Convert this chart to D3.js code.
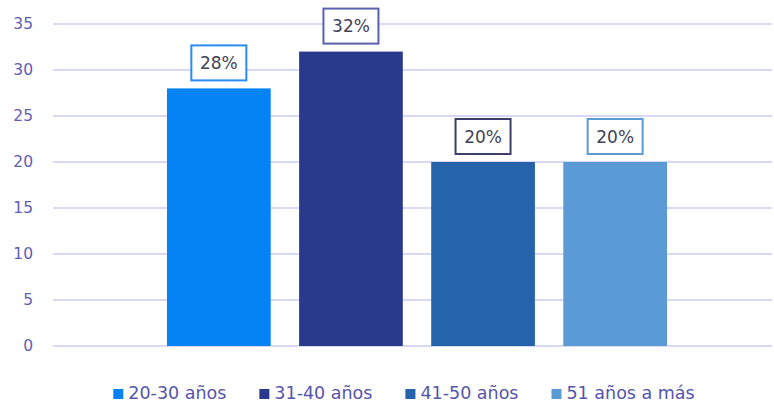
<!DOCTYPE html>
<html>
<head>
<meta charset="utf-8">
<script src="https://cdn.jsdelivr.net/npm/d3@7"></script>
<style>
  html, body { margin: 0; padding: 0; background: #ffffff; }
  svg { display: block; }
</style>
</head>
<body>
<svg id="chart" width="774" height="404"></svg>
<script>
// Age groups and their share of respondents (%)
const categories = ["20-30 años", "31-40 años", "41-50 años", "51 años a más"];
const values = [28, 32, 20, 20];
const barColors = ["#0583f4", "#293a8c", "#2563ab", "#5b9bd5"];
const labelBorders = ["#2a8cf0", "#5862ad", "#3e3e66", "#5b9bd5"];
const yTicks = [0, 5, 10, 15, 20, 25, 30, 35];

const FONT = "'DejaVu Sans', sans-serif";
const svg = d3.select("#chart");

const plot = { left: 53, right: 772, top: 24, bottom: 346 };

const y = d3.scaleLinear().domain([0, 35]).range([plot.bottom, plot.top]);
const x = d3.scaleBand()
  .domain(categories)
  .range([153, 681])
  .paddingInner(0.215)
  .paddingOuter(0.106);

// Horizontal gridlines
svg.append("g")
  .selectAll("line")
  .data(yTicks)
  .join("line")
  .attr("x1", plot.left)
  .attr("x2", plot.right)
  .attr("y1", d => y(d))
  .attr("y2", d => y(d))
  .attr("stroke", "#d9d9f4")
  .attr("stroke-width", 2);

// Y axis labels
const yAxis = d3.axisLeft(y).tickValues(yTicks).tickSize(0).tickPadding(0);
const yAxisG = svg.append("g")
  .attr("transform", "translate(33,0)")
  .call(yAxis);
yAxisG.select(".domain").remove();
yAxisG.selectAll("text")
  .attr("fill", "#5e5eb4")
  .attr("font-family", FONT)
  .attr("font-size", 15.5);

// Bars
svg.append("g")
  .selectAll("rect")
  .data(values)
  .join("rect")
  .attr("x", (d, i) => x(categories[i]))
  .attr("width", x.bandwidth())
  .attr("y", d => y(d))
  .attr("height", d => y(0) - y(d))
  .attr("fill", (d, i) => barColors[i]);

// Value callouts above each bar
const boxW = 55, boxH = 35, boxGap = 8;
const labels = svg.append("g")
  .selectAll("g")
  .data(values)
  .join("g")
  .attr("transform", (d, i) =>
    `translate(${x(categories[i]) + x.bandwidth() / 2},${y(d) - boxGap - boxH})`);

labels.append("rect")
  .attr("x", -boxW / 2)
  .attr("y", 0)
  .attr("width", boxW)
  .attr("height", boxH)
  .attr("fill", "#ffffff")
  .attr("stroke", (d, i) => labelBorders[i])
  .attr("stroke-width", 2);

labels.append("text")
  .attr("x", 0)
  .attr("y", boxH / 2 + 1)
  .attr("text-anchor", "middle")
  .attr("dominant-baseline", "middle")
  .attr("font-family", FONT)
  .attr("font-size", 17)
  .attr("fill", "#424256")
  .text(d => d + "%");

// Legend
const legendY = 394;
const legend = svg.append("g");
const items = legend.selectAll("g")
  .data(categories)
  .join("g");

items.append("rect")
  .attr("x", 0)
  .attr("y", legendY - 5)
  .attr("width", 10)
  .attr("height", 10)
  .attr("fill", (d, i) => barColors[i]);

items.append("text")
  .attr("x", 15)
  .attr("y", legendY)
  .attr("dominant-baseline", "middle")
  .attr("font-family", FONT)
  .attr("font-size", 17.5)
  .attr("fill", "#5555aa")
  .text(d => d);

// Lay legend entries out in one centred row
const gap = 33;
const widths = [];
items.each(function () {
  widths.push(15 + this.querySelector("text").getComputedTextLength());
});
const total = d3.sum(widths) + gap * (widths.length - 1);
let cursor = 404 - total / 2;
items.attr("transform", (d, i) => {
  const tx = cursor;
  cursor += widths[i] + gap;
  return `translate(${tx},0)`;
});
</script>
</body>
</html>
